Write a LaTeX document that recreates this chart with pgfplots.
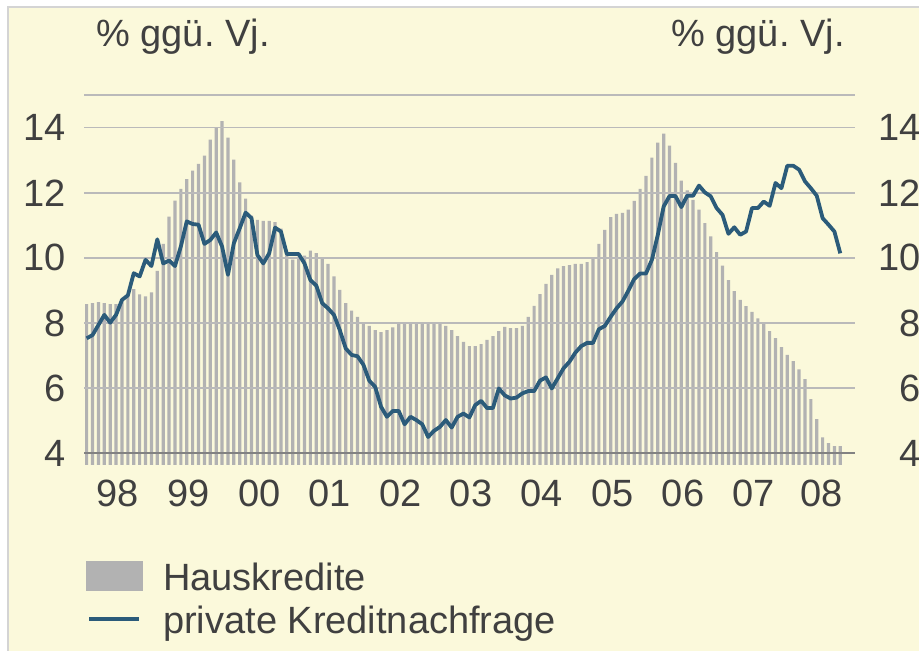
\documentclass[border=0pt]{standalone}
\usepackage{pgfplots}
\usepackage{pgfplotstable}
\pgfplotsset{compat=1.18}
\usepackage{fontspec}
\setmainfont{Liberation Sans}
\frenchspacing
\definecolor{bg}{RGB}{251,249,219}
\definecolor{barc}{RGB}{178,178,178}
\definecolor{linec}{RGB}{43,91,122}
\definecolor{txt}{RGB}{64,64,64}
\definecolor{gridc}{RGB}{186,186,186}
\definecolor{axc}{RGB}{130,130,130}
\definecolor{bord}{RGB}{212,212,212}

\pgfplotstableread{
k h p
0 8.58 7.53
1 8.61 7.63
2 8.64 7.94
3 8.61 8.25
4 8.58 8.01
5 8.58 8.25
6 8.70 8.71
7 8.85 8.85
8 9.04 9.53
9 8.88 9.43
10 8.82 9.94
11 8.94 9.75
12 9.60 10.57
13 10.43 9.83
14 11.27 9.92
15 11.76 9.75
16 12.12 10.35
17 12.42 11.12
18 12.68 11.04
19 12.89 11.02
20 13.14 10.43
21 13.63 10.55
22 14.00 10.78
23 14.20 10.35
24 13.69 9.48
25 13.02 10.45
26 12.32 10.91
27 11.82 11.39
28 11.30 11.22
29 11.17 10.09
30 11.14 9.83
31 11.14 10.14
32 11.10 10.93
33 10.90 10.81
34 10.15 10.12
35 9.95 10.12
36 10.04 10.12
37 10.07 9.83
38 10.22 9.32
39 10.15 9.15
40 9.99 8.61
41 9.82 8.45
42 9.43 8.25
43 9.02 7.78
44 8.61 7.22
45 8.38 7.02
46 8.19 6.98
47 8.01 6.72
48 7.91 6.23
49 7.78 6.04
50 7.72 5.43
51 7.78 5.12
52 7.87 5.30
53 7.99 5.30
54 7.99 4.89
55 7.99 5.12
56 7.99 5.02
57 7.99 4.89
58 7.99 4.50
59 7.99 4.69
60 7.99 4.81
61 7.91 5.02
62 7.78 4.79
63 7.60 5.12
64 7.42 5.22
65 7.29 5.10
66 7.29 5.48
67 7.35 5.61
68 7.48 5.39
69 7.60 5.39
70 7.75 5.99
71 7.88 5.78
72 7.84 5.68
73 7.84 5.71
74 7.91 5.84
75 8.19 5.91
76 8.53 5.91
77 8.89 6.23
78 9.20 6.33
79 9.48 5.99
80 9.68 6.30
81 9.75 6.61
82 9.78 6.81
83 9.82 7.09
84 9.82 7.29
85 9.87 7.39
86 9.99 7.39
87 10.43 7.81
88 10.86 7.91
89 11.25 8.19
90 11.35 8.45
91 11.38 8.66
92 11.48 8.99
93 11.75 9.35
94 12.12 9.52
95 12.52 9.52
96 13.08 9.94
97 13.54 10.70
98 13.82 11.58
99 13.45 11.90
100 12.92 11.90
101 12.37 11.56
102 12.07 11.91
103 11.78 11.91
104 11.48 12.22
105 11.07 12.01
106 10.66 11.89
107 10.18 11.53
108 9.76 11.32
109 9.32 10.74
110 8.98 10.94
111 8.71 10.71
112 8.52 10.81
113 8.34 11.53
114 8.14 11.53
115 7.99 11.73
116 7.75 11.60
117 7.54 12.30
118 7.26 12.14
119 7.02 12.83
120 6.83 12.83
121 6.58 12.71
122 6.28 12.35
123 5.66 12.14
124 5.05 11.91
125 4.49 11.22
126 4.31 11.02
127 4.22 10.81
128 4.22 10.14
}\datatab

\begin{document}
\begin{tikzpicture}[font=\fontsize{19}{22.8}\selectfont, text=txt]
\path[use as bounding box] (0,0) rectangle (459.5pt,325.5pt);
\clip (0,0) rectangle (459.5pt,325.5pt);
\fill[white] (0,0) rectangle (459.5pt,325.5pt);
\fill[bg] (4pt,0) rectangle (459.5pt,322pt);
\draw[bord, line width=0.9pt] (4pt,0) -- (4pt,322pt) -- (459.5pt,322pt);

\begin{axis}[
  scale only axis, width=385.5pt, height=184.95pt,
  at={(42pt,93pt)}, anchor=south west,
  xmin=-0.45, xmax=130.5, ymin=3.64, ymax=15,
  axis line style={draw=none},
  major tick length=0pt, tick style={draw=none},
  ytick={4,6,8,10,12,14}, yticklabels={4,6,8,10,12,14},
  xtick={5.3,17.3,29.3,41.3,53.3,65.3,77.3,89.3,101.3,113.3,124.8},
  xticklabels={98,99,00,01,02,03,04,05,06,07,08},
  tick label style={font=\fontsize{19}{22.8}\selectfont, text=txt},
  yticklabel style={anchor=east, inner sep=0pt, xshift=-9pt},
  xticklabel style={anchor=north, inner sep=0pt, yshift=-7.5pt},
  clip mode=individual,
]
\addplot[ybar, bar width=1.6pt, fill=barc, draw=none] table[x=k,y=h]{\datatab};
\pgfplotsinvokeforeach{6,8,10,12,14,15}{
  \draw[gridc, line width=0.75pt] (axis cs:-0.45,#1) -- (axis cs:130.5,#1);
}
\draw[axc, line width=0.8pt] (axis cs:-0.45,4) -- (axis cs:130.5,4);
\addplot[linec, line width=1.9pt, line join=round, mark=none] table[x=k,y=p]{\datatab};
\end{axis}

\begin{axis}[
  scale only axis, width=385.5pt, height=184.95pt,
  at={(42pt,93pt)}, anchor=south west,
  xmin=-0.45, xmax=130.5, ymin=3.64, ymax=15,
  hide x axis, axis y line*=right,
  axis line style={draw=none},
  major tick length=0pt, tick style={draw=none},
  ytick={4,6,8,10,12,14}, yticklabels={4,6,8,10,12,14},
  tick label style={font=\fontsize{19}{22.8}\selectfont, text=txt},
  yticklabel style={anchor=east, inner sep=0pt, xshift=33pt},
]
\addplot[draw=none] coordinates {(0,4)};
\end{axis}

\node[anchor=base west, inner sep=0pt] at (48pt,302pt) {\% ggü. Vj.};
\node[anchor=base east, inner sep=0pt] at (422.5pt,302pt) {\% ggü. Vj.};

\fill[barc] (42.85pt,30pt) rectangle (71.35pt,45pt);
\node[anchor=base west, inner sep=0pt] at (81.35pt,30pt) {Hauskredite};
\draw[linec, line width=2pt] (44.5pt,16pt) -- (69.5pt,16pt);
\node[anchor=base west, inner sep=0pt] at (81.35pt,8.75pt) {private Kreditnachfrage};
\end{tikzpicture}
\end{document}
